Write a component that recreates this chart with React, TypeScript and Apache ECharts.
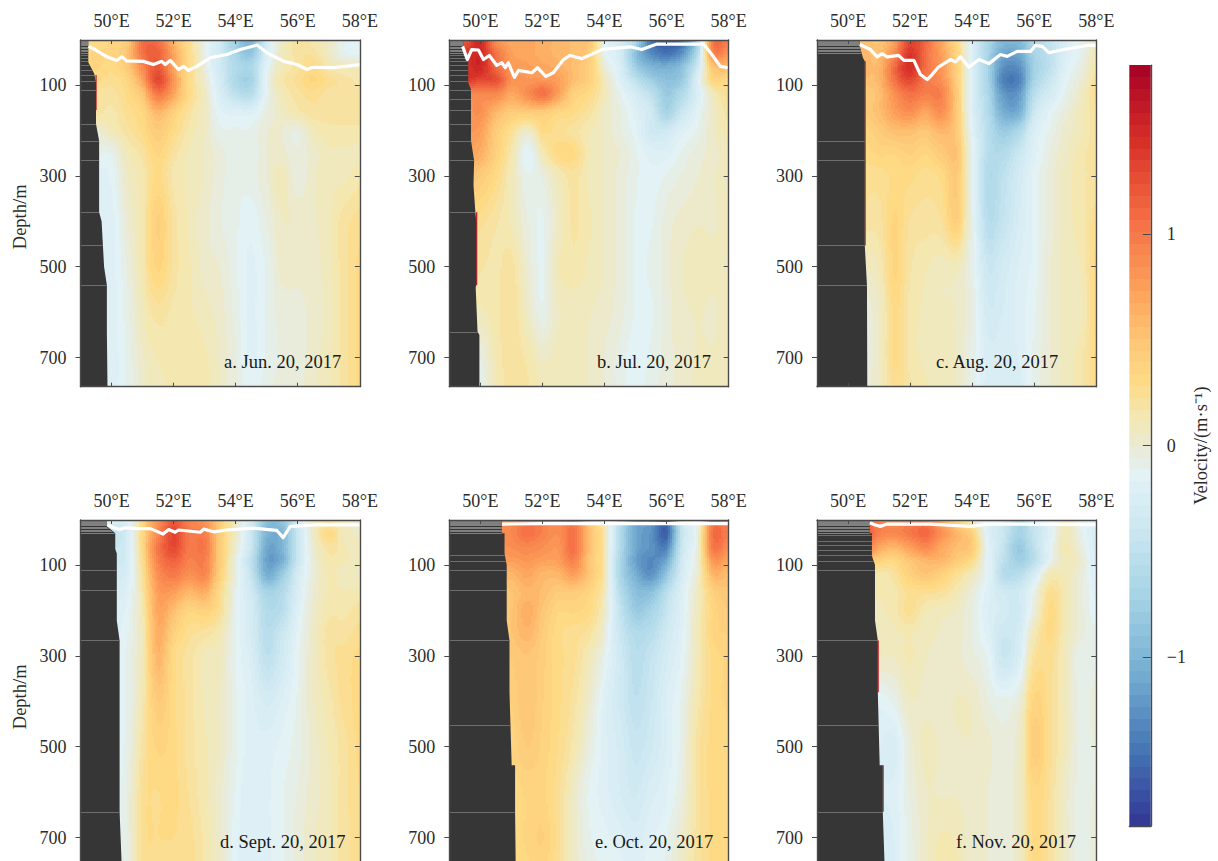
import React, { useEffect, useRef } from "react";
import * as echarts from "echarts";

const FONT = "Liberation Serif";
const xTickValues = [50, 52, 54, 56, 58];
const yTickValues = [100, 300, 500, 700];
const cbarTickValues = [-1, 0, 1];
const depthRows = [1, 30, 60, 90, 120, 160, 200, 250, 300, 400, 500, 600, 700, 764];
const lonsFull = [49, 49.5, 50, 50.5, 51, 51.5, 52, 52.5, 53, 53.5, 54, 54.5, 55, 55.5, 56, 56.5, 57, 57.5, 58];

const velA = [
  [.3, .3, .35, .45, 1.05, 1.05, .6, .25, -.1, -.35, -.75, -1.0, -.3, .05, .2, .15, .05, -.1, -.15],
  [.3, .35, .35, .5, 1.05, 1.15, .7, .3, -.1, -.35, -.7, -.85, -.25, .05, .2, .2, .05, -.1, -.15],
  [.3, .35, .3, .45, .9, 1.2, .7, .3, -.05, -.35, -.6, -.65, -.15, .1, .2, .3, .15, .1, .1],
  [.25, .3, .25, .35, .75, 1.3, .8, .3, 0, -.3, -.65, -.7, -.1, .15, .25, .35, .25, .2, .15],
  [.2, .2, .2, .3, .5, 1.0, .7, .3, .05, -.25, -.5, -.55, -.1, .1, .2, .25, .2, .2, .2],
  [.2, .2, .15, .25, .35, .6, .4, .2, .05, -.15, -.2, -.2, -.05, .05, .15, .2, .2, .2, .2],
  [0, 0, .1, .2, .3, .45, .3, .15, .05, -.1, -.1, -.1, 0, 0, -.05, .1, .15, .15, .15],
  [-.1, -.1, -.1, .1, .2, .35, .2, .1, .05, -.03, -.1, -.1, 0, .02, -.05, .03, .1, .1, .1],
  [-.2, -.2, -.15, .05, .15, .3, .15, .1, .05, -.03, -.1, -.08, 0, .1, -.05, .05, .1, .1, .15],
  [-.2, -.2, -.2, 0, .15, .4, .2, .1, .02, -.05, -.1, -.15, -.05, .05, .05, .05, .1, .2, .25],
  [-.2, -.2, -.2, -.05, .15, .35, .2, .12, .03, 0, -.1, -.18, -.1, .02, .02, .03, .1, .2, .3],
  [-.2, -.2, -.2, -.08, .1, .2, .15, .12, .08, .03, -.08, -.18, -.1, -.03, -.02, .02, .08, .2, .3],
  [-.15, -.15, -.2, -.1, .05, .12, .12, .15, .12, .05, -.05, -.18, -.1, -.05, -.03, .03, .1, .2, .3],
  [-.15, -.15, -.2, -.1, .03, .1, .12, .15, .15, .05, -.05, -.15, -.08, -.03, -.02, .05, .1, .2, .3],
];
const velB = [
  [1.2, 1.2, 1.5, .85, .7, .7, .65, .6, .55, .5, -.1, -.3, -.6, -1.45, -1.6, -1.5, -.7, 1.0, .95],
  [1.4, 1.4, 1.5, 1.05, .75, .7, .65, .6, .55, .45, -.1, -.3, -.9, -1.3, -1.45, -1.25, -.55, .9, .8],
  [1.4, 1.4, 1.5, 1.1, .8, .75, .7, .65, .55, .4, 0, -.25, -.75, -1.0, -1.05, -.9, -.35, .5, .55],
  [1.4, 1.4, 1.3, 1.25, .85, .8, .8, .75, .55, .4, .1, -.2, -.5, -.75, -.9, -.8, -.2, .35, .3],
  [.9, .9, .9, .9, .7, .85, 1.05, .75, .4, .3, .1, -.1, -.3, -.5, -.8, -.6, -.25, .1, .25],
  [.8, .8, .85, .6, .45, .45, .45, .35, .3, .2, .05, -.05, -.2, -.35, -.7, -.4, -.15, .05, .2],
  [.8, .8, .75, .45, .25, .05, .3, .25, .2, .12, .05, -.05, -.15, -.35, -.35, -.2, -.1, .05, .15],
  [.7, .7, .65, .4, .15, -.15, .1, .3, .3, .12, .05, 0, -.1, -.2, -.2, -.1, -.03, .03, .1],
  [.5, .5, .45, .3, .1, -.1, -.05, .1, .2, .1, .05, -.02, -.1, -.15, -.1, -.05, 0, .05, .08],
  [.3, .3, .25, .18, .1, -.05, -.12, .05, .18, .12, .06, -.02, -.12, -.12, -.03, .02, .05, .05, .08],
  [.2, .2, .18, .15, .2, 0, -.12, .1, .15, .1, .05, -.02, -.12, -.1, -.02, .05, .1, .07, .08],
  [.15, .15, .1, .15, .22, .05, -.1, .05, .08, .06, .03, -.03, -.12, -.12, -.03, .04, .06, .05, .08],
  [.1, .1, -.05, .12, .22, .15, .05, .08, .08, .05, 0, -.08, -.15, -.1, -.03, .03, .06, .06, .08],
  [.1, .1, -.1, .1, .2, .18, .1, .08, .08, .05, 0, -.08, -.15, -.08, -.03, .03, .06, .06, .08],
];
const velC = [
  [.55, .55, .55, .55, .5, .75, 1.3, 1.1, .7, .3, -.2, -.65, -.95, -.95, -.65, -.45, -.25, -.1, .05],
  [.6, .6, .6, .6, .55, .9, 1.4, 1.05, .75, .35, -.2, -.7, -1.1, -1.1, -.7, -.5, -.25, -.1, .1],
  [.6, .6, .6, .6, .6, 1.1, 1.45, 1.05, .8, .4, -.2, -.7, -1.25, -1.25, -.75, -.5, -.2, -.05, .15],
  [.55, .55, .55, .55, .6, 1.05, 1.3, 1.0, .85, .4, -.2, -.7, -1.35, -1.35, -.7, -.4, -.15, 0, .2],
  [.45, .45, .45, .45, .55, .85, 1.05, .95, .95, .45, -.2, -.65, -1.2, -1.2, -.55, -.3, -.1, .05, .25],
  [.45, .45, .45, .45, .55, .75, .85, .7, .85, .45, -.2, -.6, -1.05, -1.05, -.4, -.15, -.03, .1, .2],
  [.35, .35, .35, .35, .45, .55, .55, .5, .6, .45, -.15, -.55, -.8, -.65, -.25, -.1, .02, .1, .2],
  [.3, .3, .3, .3, .35, .35, .4, .35, .45, .5, -.1, -.55, -.6, -.4, -.2, -.05, .05, .15, .2],
  [.25, .25, .25, .25, .25, .3, .3, .25, .3, .45, -.1, -.6, -.5, -.32, -.15, -.03, .08, .15, .2],
  [.2, .2, .2, .2, .2, .35, .22, .2, .22, .4, -.08, -.55, -.45, -.28, -.15, -.03, .08, .15, .25],
  [.05, .05, .05, .05, .12, .35, .18, .12, .08, .08, -.08, -.4, -.32, -.22, -.15, 0, .08, .12, .3],
  [-.03, -.03, -.03, -.03, .05, .3, .15, .1, .06, .05, -.05, -.32, -.28, -.2, -.12, 0, .08, .1, .3],
  [-.03, -.03, -.03, -.03, .05, .3, .15, .1, .08, .05, -.08, -.25, -.25, -.22, -.1, 0, .08, .15, .3],
  [-.03, -.03, -.03, -.03, .05, .25, .18, .12, .08, .05, -.08, -.25, -.28, -.25, -.1, 0, .08, .15, .3],
];
const velD = [
  [-.2, -.2, -.2, -.2, .35, .85, 1.2, .95, .8, .45, .05, -.3, -.9, -.85, -.3, .05, .15, .08, .02],
  [-.45, -.45, -.45, -.3, .35, .9, 1.3, 1.0, .95, .45, .05, -.4, -1, -1, -.4, .05, .3, .1, .05],
  [-.4, -.4, -.4, -.3, .35, 1.0, 1.3, 1.0, 1.0, .45, 0, -.4, -1.1, -1.0, -.4, 0, .2, .12, .08],
  [-.35, -.35, -.35, -.3, .3, .95, 1.15, .95, .95, .45, -.05, -.5, -1.15, -1.05, -.4, -.02, .15, .12, .1],
  [-.3, -.3, -.3, -.25, .25, .85, 1.0, .85, .9, .4, -.05, -.45, -1.05, -.8, -.3, -.02, .12, .08, .05],
  [-.25, -.25, -.25, -.2, .2, .75, .75, .6, .65, .3, -.1, -.35, -.7, -.6, -.25, 0, .12, .12, .12],
  [-.2, -.2, -.2, -.15, .15, .7, .55, .35, .4, .25, -.1, -.3, -.6, -.55, -.2, .02, .15, .15, .2],
  [-.2, -.2, -.2, -.12, .12, .65, .4, .25, .2, .12, -.12, -.3, -.55, -.4, -.15, .05, .2, .2, .25],
  [-.2, -.2, -.2, -.1, .12, .6, .3, .2, .1, .08, -.12, -.25, -.5, -.35, -.12, .05, .2, .25, .3],
  [-.18, -.18, -.18, -.1, .15, .45, .3, .2, .1, .05, -.1, -.2, -.3, -.22, -.1, .05, .15, .25, .3],
  [-.18, -.18, -.18, -.08, .2, .35, .3, .2, .12, .05, -.1, -.2, -.2, -.15, -.08, .02, .12, .2, .3],
  [-.18, -.18, -.18, -.05, .25, .28, .3, .22, .12, .02, -.12, -.22, -.18, -.12, -.05, .03, .1, .2, .28],
  [-.18, -.18, -.18, -.05, .25, .28, .28, .25, .15, .03, -.15, -.22, -.18, -.12, -.03, .05, .1, .2, .25],
  [-.18, -.18, -.18, -.05, .25, .25, .25, .25, .15, .05, -.15, -.22, -.18, -.12, -.03, .05, .1, .2, .25],
];
const velE = [
  [.9, .9, .9, .9, .9, 1.0, .95, .85, 1.0, .5, .1, -.55, -1.1, -1.2, -1.5, -.4, -.05, 1.0, .9],
  [.85, .85, .85, .85, .9, 1.05, .95, .85, 1.05, .55, .15, -.6, -1.1, -1.25, -1.55, -.45, -.05, 1.05, .95],
  [.8, .8, .8, .8, .85, .9, .85, .8, 1.05, .55, .15, -.6, -1.1, -1.25, -1.35, -.4, -.02, 1.0, .85],
  [.75, .75, .75, .75, .75, .8, .75, .75, .95, .5, .15, -.65, -1.15, -1.3, -1.1, -.35, 0, .8, .7],
  [.6, .6, .6, .6, .6, .7, .6, .6, .75, .5, .15, -.65, -1.05, -1.25, -.85, -.3, .02, .6, .55],
  [.5, .5, .5, .5, .5, .6, .55, .45, .45, .35, .1, -.55, -.9, -.9, -.55, -.22, .05, .4, .5],
  [.45, .45, .45, .45, .5, .65, .5, .35, .35, .3, .05, -.45, -.8, -.7, -.45, -.2, .08, .35, .45],
  [.45, .45, .45, .45, .5, .6, .45, .3, .25, .2, -.02, -.4, -.6, -.55, -.35, -.18, .1, .35, .4],
  [.4, .4, .4, .4, .45, .5, .42, .3, .25, .1, -.1, -.35, -.55, -.45, -.3, -.15, .1, .3, .35],
  [.35, .35, .35, .35, .4, .5, .4, .3, .2, .02, -.2, -.35, -.5, -.4, -.22, -.1, .15, .3, .35],
  [.3, .3, .3, .3, .35, .45, .38, .28, .15, -.05, -.2, -.3, -.42, -.35, -.22, -.08, .2, .3, .3],
  [.3, .3, .3, .3, .3, .35, .35, .25, .05, -.12, -.2, -.28, -.35, -.25, -.18, -.05, .2, .3, .3],
  [.3, .3, .3, .3, .3, .35, .4, .25, .05, -.1, -.15, -.2, -.25, -.18, -.12, .02, .2, .3, .3],
  [.3, .3, .3, .3, .3, .33, .35, .25, .05, -.08, -.12, -.15, -.2, -.12, -.1, .05, .2, .3, .3],
];
const velF = [
  [1.15, 1.15, 1.15, 1.15, .95, .85, .95, 1.0, .7, .4, .1, -.2, -.4, -.7, -.45, -.2, .1, -.1, -.2],
  [1.25, 1.25, 1.25, 1.25, .95, .9, 1.0, 1.1, .85, .6, .4, -.2, -.4, -.7, -.45, -.2, .1, -.1, -.25],
  [1.05, 1.05, 1.05, 1.05, .7, .6, .75, .9, .7, .55, .45, -.15, -.45, -.8, -.5, -.15, .12, -.05, -.25],
  [.65, .65, .65, .65, .4, .35, .5, .6, .6, .45, .3, -.15, -.5, -.75, -.55, -.15, .1, 0, -.25],
  [.3, .3, .3, .3, .15, .22, .4, .5, .4, .25, .1, -.15, -.55, -.55, -.3, .1, .1, -.03, -.22],
  [.15, .15, .15, .15, .12, .15, .25, .25, .22, .12, -.02, -.2, -.35, -.35, -.1, .25, .12, -.03, -.18],
  [.08, .08, .08, .08, .1, .15, .25, .12, .08, .05, -.05, -.22, -.3, -.35, -.05, .3, .12, -.03, -.15],
  [.05, .05, .05, .05, .06, .1, .12, .08, .05, .03, -.05, -.2, -.38, -.3, .1, .3, .1, -.03, -.1],
  [.03, .03, .03, .03, .06, .06, .12, .06, .04, .02, -.04, -.12, -.4, -.25, .2, .25, .08, -.1, -.08],
  [-.1, -.1, -.1, -.1, -.15, -.08, .05, .04, .03, .06, .05, -.05, -.1, -.02, .35, .25, .08, -.08, -.03],
  [-.2, -.2, -.2, -.2, -.22, -.25, -.03, .08, .05, .05, .05, .02, -.05, .05, .42, .25, .08, -.08, -.05],
  [-.2, -.2, -.2, -.2, -.22, -.2, -.05, .05, .05, .05, .02, 0, -.05, .05, .32, .22, .03, -.08, -.05],
  [-.22, -.22, -.22, -.22, -.25, -.22, -.08, .04, .12, .1, .03, 0, -.05, .06, .3, .2, .03, -.08, -.03],
  [-.22, -.22, -.22, -.22, -.25, -.22, -.08, .04, .15, .12, .03, 0, -.05, .06, .3, .2, .03, -.08, -.03],
];

const surfaceA = [[49.26, 15], [49.47, 22], [49.85, 38], [50.17, 46], [50.33, 38], [50.49, 47], [51.03, 48], [51.35, 55], [51.62, 48], [51.73, 55], [51.89, 46], [52.16, 66], [52.32, 59], [52.48, 68], [52.75, 59], [53.18, 40], [53.72, 33], [54.15, 22], [54.69, 12], [55.01, 29], [55.55, 48], [55.98, 55], [56.3, 66], [56.46, 61], [57.16, 62], [58, 55]];
const surfaceB = [[49.43, 15], [49.58, 44], [49.72, 22], [49.94, 23], [50.1, 44], [50.29, 35], [50.53, 57], [50.69, 51], [50.8, 62], [50.9, 51], [51.1, 83], [51.23, 68], [51.66, 73], [51.84, 62], [52.11, 81], [52.35, 73], [52.68, 44], [52.89, 35], [53.27, 42], [53.97, 21], [54.83, 16], [55.2, 22], [55.69, 10], [57.19, 10], [57.46, 33], [57.73, 59], [58, 62]];
const surfaceC = [[50.38, 11], [50.72, 22], [50.94, 38], [51.1, 31], [51.26, 38], [51.63, 35], [51.8, 46], [52.12, 46], [52.33, 77], [52.55, 88], [52.71, 77], [52.92, 60], [53.3, 44], [53.46, 49], [53.62, 38], [53.89, 61], [54.22, 44], [54.54, 53], [54.91, 33], [55.13, 37], [55.45, 26], [55.88, 26], [56.04, 13], [56.26, 15], [56.47, 29], [56.96, 22], [57.71, 13], [58, 13]];
const surfaceD = [[49.87, 11], [50.06, 18], [50.26, 22], [50.44, 18], [50.82, 20], [51.25, 20], [51.66, 32], [51.84, 22], [52.05, 28], [52.16, 23], [52.86, 28], [52.97, 21], [53.29, 27], [53.72, 23], [54.58, 19], [55.06, 22], [55.33, 24], [55.53, 40], [55.76, 15], [56.73, 11], [58, 12]];
const surfaceE = [[50.7, 10], [52, 9], [54, 9], [56, 9], [58, 9]];
const surfaceF = [[50.7, 7], [50.88, 12], [51.04, 15], [51.26, 10], [52.66, 10], [53.95, 15], [54.48, 10], [58, 11]];

const landA = [[49.25, 1], [49.25, 50], [49.44, 75], [49.5, 95], [49.5, 186], [49.6, 223], [49.6, 380], [49.68, 400], [49.76, 500], [49.85, 541], [49.85, 643], [49.87, 764]];
const landB = [[49.45, 1], [49.45, 20], [49.61, 40], [49.61, 95], [49.7, 110], [49.7, 223], [49.8, 266], [49.78, 320], [49.84, 380], [49.87, 400], [49.87, 541], [49.85, 545], [49.91, 643], [49.97, 650], [49.97, 764]];
const landC = [[50.38, 1], [50.38, 15], [50.48, 40], [50.54, 48], [50.54, 453], [50.61, 541], [50.62, 764]];
const landD = [[49.85, 1], [49.85, 15], [50.12, 30], [50.12, 65], [50.17, 75], [50.17, 223], [50.26, 266], [50.26, 643], [50.33, 764]];
const landE = [[50.69, 1], [50.69, 30], [50.78, 30], [50.78, 75], [50.85, 100], [50.85, 223], [50.94, 266], [50.94, 380], [51.01, 541], [51.12, 541], [51.12, 643], [51.14, 764]];
const landF = [[50.7, 1], [50.7, 30], [50.77, 30], [50.77, 80], [50.87, 100], [50.87, 223], [50.96, 266], [50.96, 380], [51.02, 541], [51.12, 541], [51.12, 643], [51.18, 764]];

const shallowLevels = [3, 5, 6, 8, 10, 11, 13, 16, 18, 22, 25, 29];
const sepA = [34, 40, 47, 56, 66, 78, 92, 110, 186, 223, 266, 380, 453, 541];
const sepB = [34, 40, 47, 56, 66, 78, 92, 110, 130, 156, 186, 223, 266, 380, 643];
const sepC = [223, 266, 453, 541];
const sepD = [110, 156, 266, 643];
const sepE = [78, 92, 110, 156, 266, 453, 643];
const sepF = [34, 47, 56, 66, 78, 92, 110, 266, 453, 643];

// [lon, depth from, depth to]
const redA = [[49.49, 78, 155]];
const redB = [[49.87, 380, 540]];
const redC = [[50.54, 48, 453]];
const redD: number[][] = [];
const redE: number[][] = [];
const redF = [[50.96, 266, 380], [51.12, 541, 643]];

const labelA = "a. Jun. 20, 2017";
const labelB = "b. Jul. 20, 2017";
const labelC = "c. Aug. 20, 2017";
const labelD = "d. Sept. 20, 2017";
const labelE = "e. Oct. 20, 2017";
const labelF = "f. Nov. 20, 2017";

const colorStops: [number, string][] = [
  [-1.8, "#313695"], [-1.44, "#4575b4"], [-1.08, "#74add1"], [-0.72, "#a5d3e6"], [-0.36, "#cfe9f2"],
  [-0.15, "#e2f2f6"], [0, "#ebebd3"], [0.12, "#f3e8b5"], [0.3, "#fedb86"], [0.5, "#fdc675"],
  [0.72, "#fda35c"], [1.08, "#f46d43"], [1.44, "#d73027"], [1.8, "#a50026"],
];
const BANDS = 64;
const hex = (s: string) => [parseInt(s.slice(1, 3), 16), parseInt(s.slice(3, 5), 16), parseInt(s.slice(5, 7), 16)];
function ramp(v: number) {
  for (let i = 1; i < colorStops.length; i++) {
    if (v <= colorStops[i][0]) {
      const [a, ca] = colorStops[i - 1];
      const [b, cb] = colorStops[i];
      const t = Math.max(0, (v - a) / (b - a));
      const A = hex(ca), B = hex(cb);
      return `rgb(${A.map((x, k) => Math.round(x + (B[k] - x) * t)).join(",")})`;
    }
  }
  return colorStops[colorStops.length - 1][1];
}
const bandColors = Array.from({ length: BANDS }, (_, i) => ramp(-1.8 + (i + 0.5) * 3.6 / BANDS));
const bandOf = (v: number) => Math.max(0, Math.min(BANDS - 1, Math.floor((v + 1.8) / 3.6 * BANDS)));

const cr = (a: number, b: number, c: number, d: number, t: number) =>
  b + 0.5 * t * (c - a + t * (2 * a - 5 * b + 4 * c - d + t * (3 * (b - c) + d - a)));
function sampleField(g: number[][], j: number, i: number, t: number, s: number) {
  const nr = g.length, nc = g[0].length;
  const row = (r: number) => {
    const R = g[Math.max(0, Math.min(nr - 1, r))];
    const q = (k: number) => R[Math.max(0, Math.min(nc - 1, k))];
    return cr(q(i - 1), q(i), q(i + 1), q(i + 2), s);
  };
  return cr(row(j - 1), row(j), row(j + 1), row(j + 2), t);
}

const panelDefs = [
  { vel: velA, surf: surfaceA, land: landA, sep: sepA, red: redA, label: labelA, left: 80.5, top: 40, lx: 224, depthName: true },
  { vel: velB, surf: surfaceB, land: landB, sep: sepB, red: redB, label: labelB, left: 449.3, top: 40, lx: 597, depthName: false },
  { vel: velC, surf: surfaceC, land: landC, sep: sepC, red: redC, label: labelC, left: 817, top: 40, lx: 936, depthName: false },
  { vel: velD, surf: surfaceD, land: landD, sep: sepD, red: redD, label: labelD, left: 80.5, top: 520, lx: 220, depthName: true },
  { vel: velE, surf: surfaceE, land: landE, sep: sepE, red: redE, label: labelE, left: 449.3, top: 520, lx: 595, depthName: false },
  { vel: velF, surf: surfaceF, land: landF, sep: sepF, red: redF, label: labelF, left: 817, top: 520, lx: 956, depthName: false },
];

const AX = "#4a4a4a";
const textColor = "#2b2b2b";
const axisBase = { z: 10, splitLine: { show: false }, axisLine: { show: true, onZero: false, lineStyle: { color: AX, width: 1.4 } } };

function edgeLonAt(land: number[][], d: number) {
  for (let i = 1; i < land.length; i++) {
    if (d <= land[i][1]) {
      const [l0, d0] = land[i - 1], [l1, d1] = land[i];
      return d1 === d0 ? l1 : l0 + (l1 - l0) * (d - d0) / (d1 - d0);
    }
  }
  return land[land.length - 1][0];
}

function buildOption() {
  const grid: any[] = [], xAxis: any[] = [], yAxis: any[] = [], series: any[] = [], graphic: any[] = [];
  panelDefs.forEach((p, k) => {
    grid.push({ left: p.left, top: p.top, width: 279.3, height: 346.7, containLabel: false });
    const x0 = k * 2, y0 = k * 2;
    xAxis.push({
      ...axisBase, type: "value", gridIndex: k, position: "top", min: 49, max: 58,
      axisTick: { show: true, inside: true, length: 4, customValues: xTickValues, lineStyle: { color: AX, width: 1 } },
      axisLabel: { show: true, customValues: xTickValues, margin: 10, fontFamily: FONT, fontSize: 18, color: textColor, formatter: (v: number) => `${v}°E`, hideOverlap: false, showMinLabel: true, showMaxLabel: true },
    });
    xAxis.push({
      ...axisBase, type: "value", gridIndex: k, position: "bottom", min: 49, max: 58,
      axisTick: { show: true, inside: true, length: 4, customValues: xTickValues, lineStyle: { color: AX, width: 1 } },
      axisLabel: { show: false },
    });
    yAxis.push({
      ...axisBase, type: "value", gridIndex: k, position: "left", inverse: true, min: 1, max: 764,
      axisTick: { show: true, inside: false, length: 5, customValues: yTickValues, lineStyle: { color: AX, width: 1 } },
      axisLabel: { show: true, customValues: yTickValues, margin: 14, fontFamily: FONT, fontSize: 18, color: textColor },
      ...(p.depthName ? { name: "Depth/m", nameLocation: "middle", nameRotate: 90, nameGap: 51, nameTextStyle: { fontFamily: FONT, fontSize: 18.5, color: textColor, padding: [0, 7, 0, 0] } } : {}),
    });
    yAxis.push({
      ...axisBase, type: "value", gridIndex: k, position: "right", inverse: true, min: 1, max: 764,
      axisTick: { show: true, inside: true, length: 5, customValues: yTickValues, lineStyle: { color: AX, width: 1 } },
      axisLabel: { show: false },
    });

    const g = p.vel;
    const cells: number[][] = [];
    for (let j = 0; j < depthRows.length - 1; j++)
      for (let i = 0; i < lonsFull.length - 1; i++)
        cells.push([lonsFull[i], depthRows[j], lonsFull[i + 1], depthRows[j + 1], i, j]);
    series.push({
      type: "custom", coordinateSystem: "cartesian2d", xAxisIndex: x0, yAxisIndex: y0, clip: true, silent: true, z: 2,
      encode: { x: 0, y: 1 }, data: cells,
      renderItem: (_: any, api: any) => {
        const a = api.coord([api.value(0), api.value(1)]);
        const b = api.coord([api.value(2), api.value(3)]);
        const i = api.value(4), j = api.value(5);
        const m = Math.max(1, Math.ceil((b[0] - a[0]) / 2));
        const n = Math.max(1, Math.ceil((b[1] - a[1]) / 2));
        const children: any[] = [];
        for (let r = 0; r < n; r++) {
          const y0r = Math.round(a[1] + (b[1] - a[1]) * r / n);
          const y1r = Math.round(a[1] + (b[1] - a[1]) * (r + 1) / n);
          if (y1r <= y0r) continue;
          let runStart = Math.round(a[0]);
          let cur = -1;
          for (let c = 0; c <= m; c++) {
            const xNow = Math.round(a[0] + (b[0] - a[0]) * c / m);
            const bd = c < m ? bandOf(sampleField(g, j, i, (r + 0.5) / n, (c + 0.5) / m)) : -2;
            if (bd !== cur) {
              if (cur >= 0 && xNow > runStart) {
                children.push({ type: "rect", shape: { x: runStart, y: y0r, width: xNow - runStart, height: y1r - y0r }, style: { fill: bandColors[cur] } });
              }
              runStart = xNow;
              cur = bd;
            }
          }
        }
        return { type: "group", children };
      },
    });

    series.push({
      type: "custom", coordinateSystem: "cartesian2d", xAxisIndex: x0, yAxisIndex: y0, clip: true, silent: true, z: 3,
      encode: { x: 0, y: 1 }, data: [[49, 1]],
      renderItem: (_: any, api: any) => {
        const pts = [[49, 1], ...p.land, [49, 764]].map((q) => api.coord(q));
        const children: any[] = [];
        p.red.forEach(([lon, d0, d1]) => {
          const s = api.coord([lon, d0]), e = api.coord([lon, d1]);
          children.push({ type: "rect", shape: { x: s[0] - 0.3, y: s[1], width: 1.3, height: e[1] - s[1] }, style: { fill: "#c8242b" } });
        });
        children.push({ type: "polygon", shape: { points: pts }, style: { fill: "#363636" } });
        [...shallowLevels, ...p.sep].forEach((d, idx) => {
          const s = api.coord([49, d]), e = api.coord([edgeLonAt(p.land, d), d]);
          const yy = Math.round(s[1]) + 0.5;
          children.push({ type: "line", shape: { x1: s[0], y1: yy, x2: e[0], y2: yy }, style: { stroke: idx < shallowLevels.length ? "#808080" : "#6e6e6e", lineWidth: 1 } });
        });
        return { type: "group", children };
      },
    });

    series.push({
      type: "line", xAxisIndex: x0, yAxisIndex: y0, data: p.surf, showSymbol: false, symbol: "none", silent: true, z: 4, clip: true,
      lineStyle: { color: "#ffffff", width: 3.2, join: "round" },
    });

    graphic.push({ type: "text", left: p.lx, top: p.top + 312, z: 20, silent: true, style: { text: p.label, font: `18.5px "${FONT}"`, fill: "#1a1a1a" } });
  });

  // colour bar
  const cbIndex = panelDefs.length;
  grid.push({ left: 1129.3, top: 65.3, width: 21.5, height: 760.7 });
  xAxis.push({ ...axisBase, type: "value", gridIndex: cbIndex, min: 0, max: 1, axisTick: { show: false }, axisLabel: { show: false } });
  yAxis.push({
    ...axisBase, type: "value", gridIndex: cbIndex, position: "right", min: -1.8, max: 1.8,
    axisTick: { show: true, inside: true, length: 8, customValues: cbarTickValues, lineStyle: { color: AX, width: 1 } },
    axisLabel: { show: true, customValues: cbarTickValues, margin: 16, fontFamily: FONT, fontSize: 18, color: textColor, formatter: (v: number) => (v < 0 ? `\u2212${-v}` : `${v}`) },
    name: "Velocity/(m·s⁻¹)", nameLocation: "middle", nameRotate: 90, nameGap: 41,
    nameTextStyle: { fontFamily: FONT, fontSize: 18.5, color: textColor },
  });
  series.push({
    type: "custom", coordinateSystem: "cartesian2d", xAxisIndex: panelDefs.length * 2, yAxisIndex: panelDefs.length * 2, silent: true, z: 2,
    encode: { x: 0, y: 1 }, data: bandColors.map((_, i) => [0, -1.8 + i * 3.6 / BANDS, 1, -1.8 + (i + 1) * 3.6 / BANDS, i]),
    renderItem: (_: any, api: any) => {
      const a = api.coord([api.value(0), api.value(3)]);
      const b = api.coord([api.value(2), api.value(1)]);
      const y0 = Math.round(a[1]), y1 = Math.round(b[1]);
      return { type: "rect", shape: { x: a[0], y: y0, width: b[0] - a[0], height: y1 - y0 }, style: { fill: bandColors[api.value(4)] } };
    },
  });

  return { animation: false, backgroundColor: "#ffffff", grid, xAxis, yAxis, series, graphic };
}

export default function App() {
  const ref = useRef<HTMLDivElement>(null);
  useEffect(() => {
    document.body.style.margin = "0";
    document.body.style.overflow = "hidden";
    const chart = echarts.init(ref.current!, undefined, { renderer: "svg" });
    chart.setOption(buildOption() as any);
    return () => chart.dispose();
  }, []);
  return (
    <div style={{ width: 1218, height: 861, overflow: "hidden" }}>
      <div ref={ref} style={{ width: 1218, height: 880 }} />
    </div>
  );
}
